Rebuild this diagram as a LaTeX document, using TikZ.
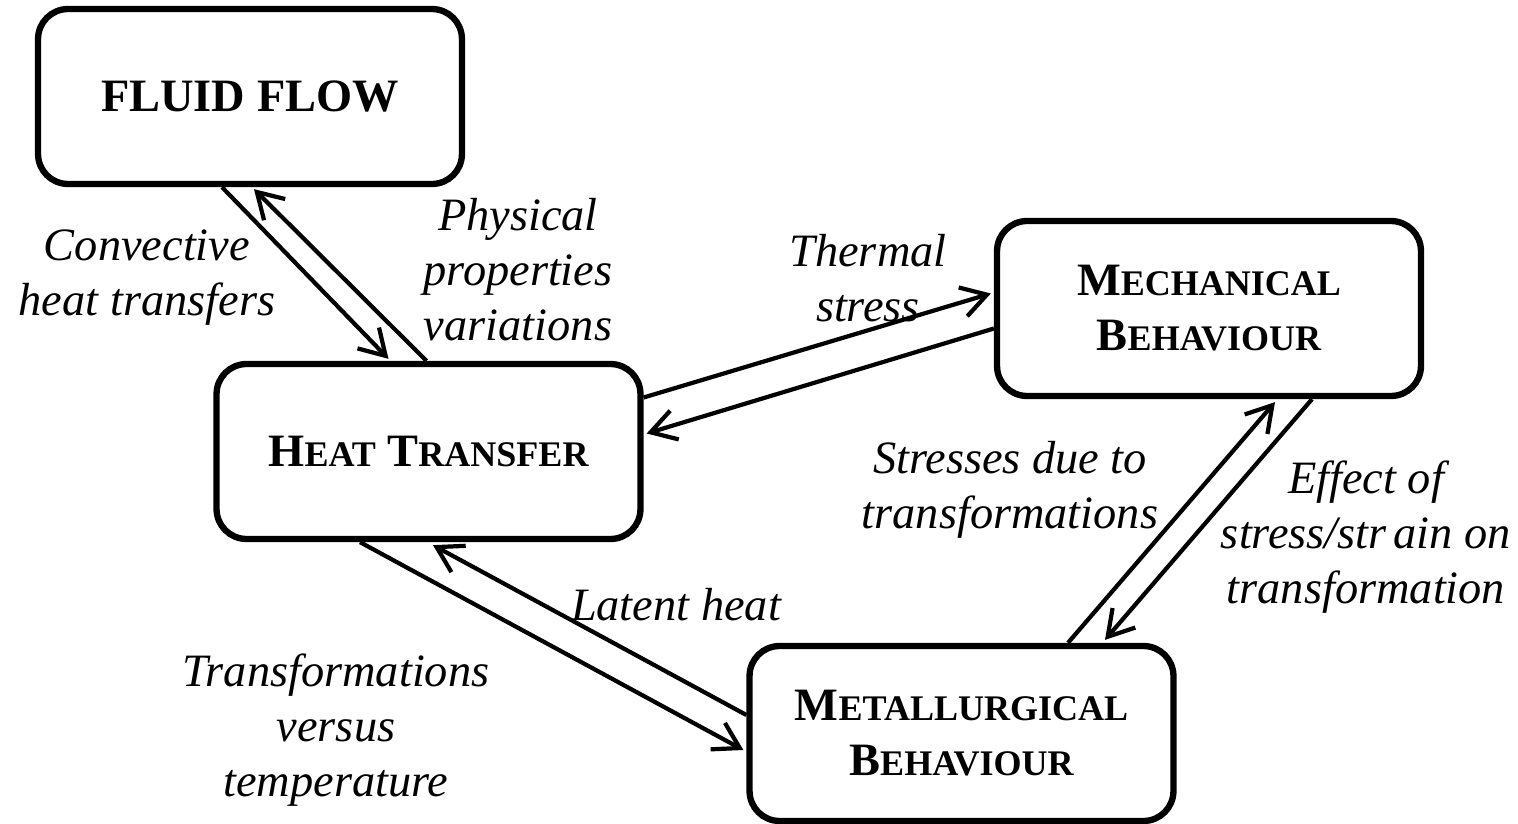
\documentclass[tikz,border=0pt]{standalone}
\usepackage{fontspec}
\setmainfont{Liberation Serif}
\usetikzlibrary{arrows.meta,calc}

\newcommand{\capsm}[2]{#1{\fontsize{20.5}{31}\selectfont #2}}

\begin{document}
\begin{tikzpicture}[x=0.02cm, y=-0.02cm, >={Straight Barb[length=5mm,width=6mm]},
    box/.style={draw, line width=3.6pt, rounded corners=0.6cm, minimum width=8.48cm, minimum height=3.5cm,
        align=center, font=\fontsize{26.4}{31.3}\selectfont\bfseries},
    lbl/.style={align=center, font=\fontsize{26.4}{31.3}\selectfont\itshape},
    link/.style={->, line width=2.4pt}]
    \useasboundingbox (0,0) rectangle (1518,824);

    \node[box] (fluid) at (250,96.5) {FLUID FLOW};
    \node[box] (heat) at (428.5,451.5) {\capsm{H}{EAT} \capsm{T}{RANSFER}};
    \node[box] (mech) at (1209,308.5) {\capsm{M}{ECHANICAL}\\\capsm{B}{EHAVIOUR}};
    \node[box] (metal) at (961.5,733.5) {\capsm{M}{ETALLURGICAL}\\\capsm{B}{EHAVIOUR}};

    \node[lbl] (convlbl) at (147,278) {Convective\\heat transfers};
    \node[lbl] (physlbl) at (518,270) {Physical\\properties\\variations};
    \node[lbl] (thermlbl) at (868,278) {Thermal\\stress};
    \node[lbl] (latlbl) at (676,605) {Latent heat};
    \node[lbl] (translbl) at (336,730) {Transformations\\versus\\temperature};
    \node[lbl] (strlbl) at (1010,490) {Stresses due to\\transformations};
    \node[lbl] (efflbl) at (1366,537) {Effect of\\stress/str\kern.15em ain on\\transformation};

    \draw[link] ($(fluid.south)+(-28,0)$) -- ($(heat.north)+(-40,-2)$);
    \draw[link] ($(heat.north)+(-2,0)$) -- ($(fluid.south)+(4,2)$);
    \draw[link] ($(heat.east)+(0,-54)$) -- ($(mech.west)+(-3,-15)$);
    \draw[link] ($(mech.west)+(0,20)$) -- ($(heat.east)+(3,-18)$);
    \draw[link] ($(metal.north)+(106.5,0)$) -- ($(mech.south)+(66,3)$);
    \draw[link] ($(mech.south)+(103,0)$) -- ($(metal.north)+(143.5,-3)$);
    \draw[link] ($(metal.west)+(0,-18.5)$) -- ($(heat.south)+(4.5,3)$);
    \draw[link] ($(heat.south)+(-68.5,0)$) -- ($(metal.west)+(-3,16.5)$);
\end{tikzpicture}
\end{document}
